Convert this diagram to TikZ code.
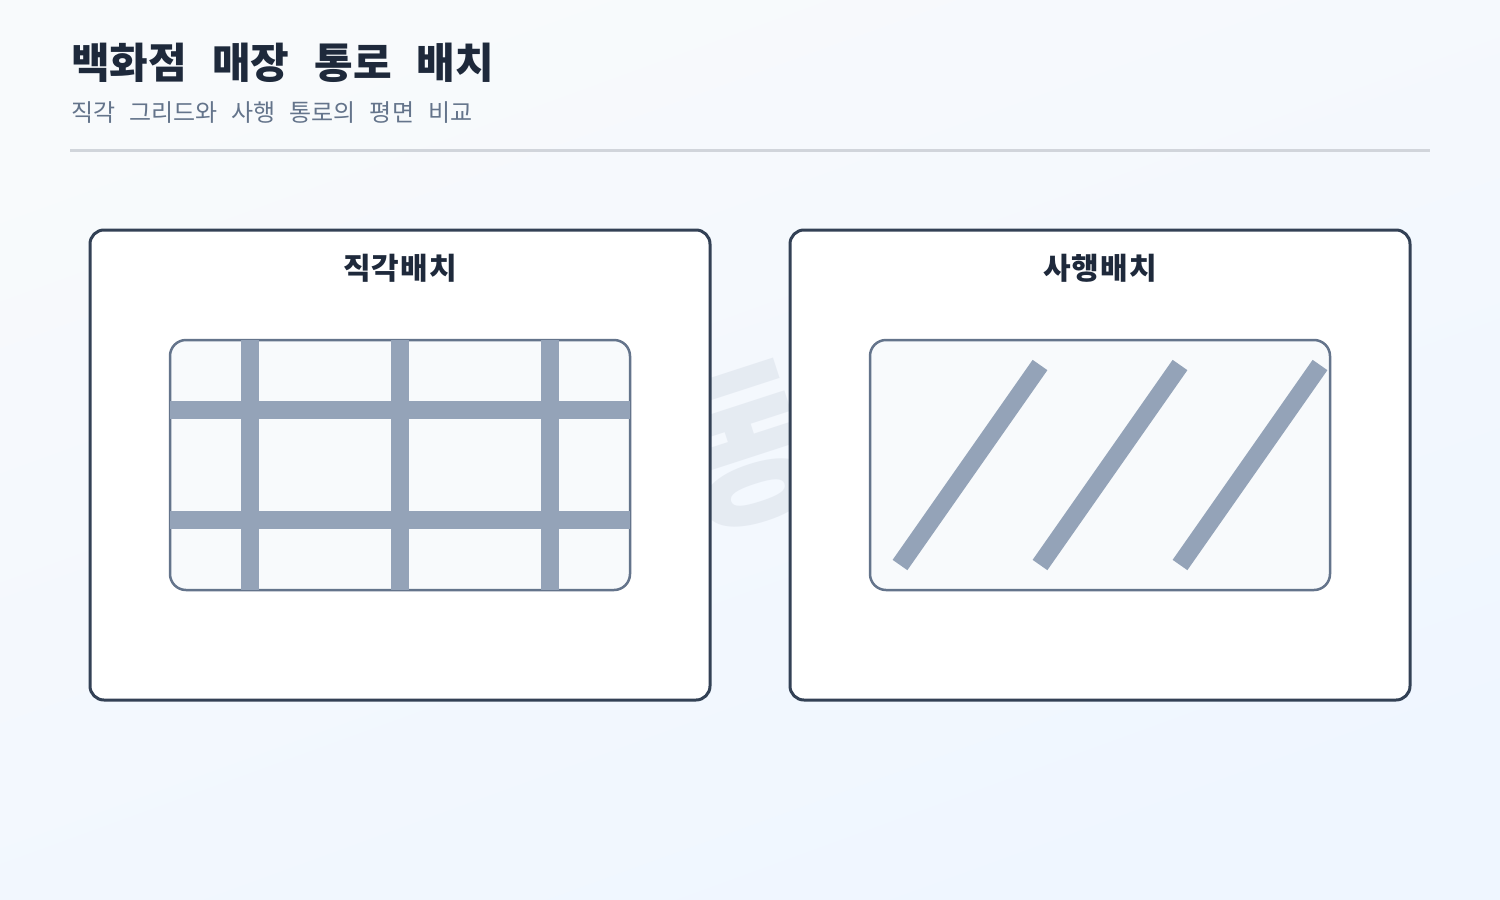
\documentclass[tikz,border=0pt]{standalone}
\usepackage{fontspec}
\setmainfont{Noto Sans CJK KR}[WordSpace=2.6]
\usetikzlibrary{positioning}

\definecolor{bgtop}{HTML}{F8FAFC}
\definecolor{bgbot}{HTML}{EFF6FF}
\definecolor{inkdark}{HTML}{1E293B}
\definecolor{inksub}{HTML}{64748B}
\definecolor{rulegray}{HTML}{D1D5DB}
\definecolor{cardline}{HTML}{334155}
\definecolor{floorline}{HTML}{64748B}
\definecolor{floorfill}{HTML}{F8FAFC}
\definecolor{aislecol}{HTML}{94A3B8}
\definecolor{markcol}{HTML}{E2E8F0}

\begin{document}
\begin{tikzpicture}[x=1pt,y=-1pt,
    card/.style={draw=cardline, line width=3pt, fill=white, rounded corners=14pt,
      minimum width=620pt, minimum height=470pt, inner sep=0pt},
    floorplan/.style={draw=floorline, line width=2.5pt, fill=floorfill, rounded corners=16pt,
      minimum width=460pt, minimum height=250pt, inner sep=0pt},
    aisle/.style={draw=aislecol, line width=18pt},
    cardtitle/.style={font=\addfontfeatures{LetterSpace=4}\bfseries\fontsize{30}{34}\selectfont, text=inkdark}]

    % background
    \shade[top color=bgtop, bottom color=bgbot, shading angle=20] (0,0) rectangle (1500,900);
    \useasboundingbox (0,0) rectangle (1500,900);

    \node[rotate=18, text=markcol, opacity=0.8, font=\bfseries\fontsize{170}{170}\selectfont]
      (mark) at (818,421) {동선};

    % heading
    \node[anchor=base west, inner sep=0pt, text=inkdark,
      font=\bfseries\fontsize{42}{48}\selectfont] (title) at (71,78) {백화점 매장 통로 배치};
    \node[anchor=base west, inner sep=0pt, text=inksub,
      font=\fontsize{24}{28}\selectfont] (subtitle) at (71,121) {직각 그리드와 사행 통로의 평면 비교};
    \coordinate (ruleL) at (70,150);
    \coordinate (ruleR) at (1430,150);
    \draw[rulegray, line width=3pt] (ruleL) -- (ruleR);

    % rectangular layout
    \node[card] (gridcard) at (400,465) {};
    \node[cardtitle] (gridtitle) at (400,268) {직각배치};
    \node[floorplan] (gridfloor) at (400,465) {};
    \foreach \x in {250,400,550}
      \draw[aisle] (\x,340) -- (\x,590);
    \foreach \y in {410,520}
      \draw[aisle] (170,\y) -- (630,\y);

    % diagonal layout
    \node[card] (diagcard) at (1100,465) {};
    \node[cardtitle] (diagtitle) at (1100,268) {사행배치};
    \node[floorplan] (diagfloor) at (1100,465) {};
    \foreach \x in {900,1040,1180}
      \draw[aisle] (\x,565) -- ++(140,-200);
\end{tikzpicture}
\end{document}
